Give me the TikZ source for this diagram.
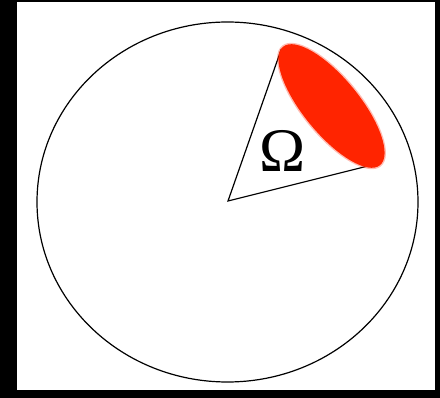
\documentclass[tikz,border=0pt]{standalone}
\usepackage{fontspec}
\usepackage{tikz}
\newfontfamily\omegafont{Liberation Serif}
\definecolor{capred}{HTML}{FF2400}

\begin{document}
\begin{tikzpicture}[x=1pt,y=-1pt,
  rim/.style={draw=black,line width=1.2pt},
  cone/.style={draw=black,line width=1.2pt,line join=miter},
  redcap/.style={fill=capred}]
% frame
\useasboundingbox (0,0) rectangle (440,398);
\fill[black] (0,0) rectangle (440,398);
\fill[white] (17,2) rectangle (435,390);
% sphere
\coordinate (o) at (228,201);
\draw[rim] (227.5,202) ellipse [x radius=190.5pt, y radius=180pt];
% cone
\coordinate (top) at (281,50);
\coordinate (tip) at (372,165);
\draw[cone] (o) -- (top) -- (tip) -- cycle;
% cap
\begin{scope}[shift={(331.5,106)},rotate=-50.7]
  \fill[redcap,opacity=0.3] (0,0) ellipse [x radius=78pt, y radius=29.5pt];
  \fill[redcap] (0,0) ellipse [x radius=76.5pt, y radius=28pt];
\end{scope}
\node[anchor=base,inner sep=0pt,font=\omegafont\fontsize{62}{62}\selectfont] (omega) at (282.5,172) {Ω};
\end{tikzpicture}
\end{document}
